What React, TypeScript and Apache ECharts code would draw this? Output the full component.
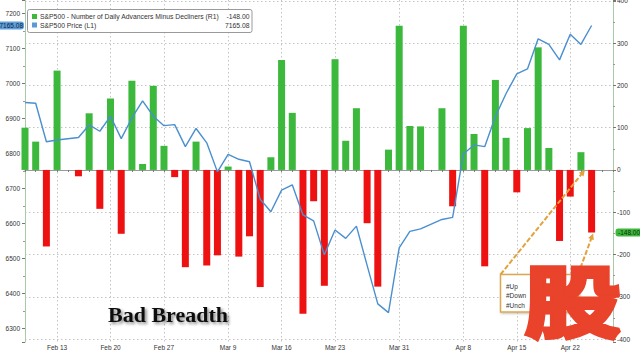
import React, { useEffect, useRef } from 'react';
import * as echarts from 'echarts';

// Weekday slots shown on the time axis (holidays keep an empty slot)
const dates = [
  'Feb 10', 'Feb 11', 'Feb 12', 'Feb 13', 'Feb 16', 'Feb 17', 'Feb 18', 'Feb 19', 'Feb 20',
  'Feb 23', 'Feb 24', 'Feb 25', 'Feb 26', 'Feb 27',
  'Mar 2', 'Mar 3', 'Mar 4', 'Mar 5', 'Mar 6',
  'Mar 9', 'Mar 10', 'Mar 11', 'Mar 12', 'Mar 13',
  'Mar 16', 'Mar 17', 'Mar 18', 'Mar 19', 'Mar 20',
  'Mar 23', 'Mar 24', 'Mar 25', 'Mar 26', 'Mar 27',
  'Mar 30', 'Mar 31', 'Apr 1', 'Apr 2', 'Apr 3',
  'Apr 6', 'Apr 7', 'Apr 8', 'Apr 9', 'Apr 10',
  'Apr 13', 'Apr 14', 'Apr 15', 'Apr 16', 'Apr 17',
  'Apr 20', 'Apr 21', 'Apr 22', 'Apr 23', 'Apr 24',
  'Apr 27', 'Apr 28',
];

const tickLabels = ['Feb 13', 'Feb 20', 'Feb 27', 'Mar 9', 'Mar 16', 'Mar 23', 'Mar 31', 'Apr 8', 'Apr 15', 'Apr 22'];

// S&P500 - Number of Daily Advancers Minus Decliners (R1)
const breadth = [
  100, 67, -181, 235, 0, -15, 134, -92, 169,
  -151, 211, 14, 199, 57,
  -17, -230, 67, -226, -202,
  8, -205, -157, -277, 30,
  260, 135, -340, -74, -274,
  262, 69, 146, -126, -276,
  48, 341, 104, 103, 0,
  146, -86, 341, 85, -228,
  213, 76, -53, 99, 290,
  52, -168, -63, 42, -148,
  null, null,
];

// S&P500 Price (L1)
const price = [
  6945, 6943, 6833, 6838, null, 6845, 6881, 6863, 6906,
  6842, 6901, 6950, 6906, 6879,
  6882, 6819, 6871, 6830, 6747,
  6797, 6783, 6776, 6669, 6633,
  6695, 6710, 6624, 6607, 6510,
  6581, 6557, 6592, 6480, 6370,
  6345, 6530, 6577, 6584, null,
  6611, 6617, 6798, 6824, 6819,
  6905, 6971, 7027, 7041, 7127,
  7111, 7067, 7140, 7111, 7165.08,
  null, null,
];

const legendNames = ['S&P500 - Number of Daily Advancers Minus Decliners (R1)', 'S&P500 Price (L1)'];
const annotationRows = ['#Up', '#Down', '#Unch'];
const titleText = 'Bad Breadth';
const yearText = '2026';
const watermark = '股';

const GREEN = '#3cb83c';
const RED = '#ee1111';
const BLUE = '#4a8fcf';
const GOLD = '#e3a23b';
const FONT = '"Liberation Sans", Arial, sans-serif';

export default function App() {
  const ref = useRef<HTMLDivElement>(null);

  useEffect(() => {
    document.body.style.margin = '0';
    const chart = echarts.init(ref.current!, null, { renderer: 'svg' });
    const labelSet = new Set(tickLabels);
    const showAt = (_i: number, v: string) => labelSet.has(v);
    const hundreds = (v: number) => (Math.abs(v % 100) < 1e-6 ? String(v) : '');
    const axisColor = '#a9c9a9';

    chart.setOption({
      animation: false,
      backgroundColor: '#ffffff',
      grid: { left: 25, right: 27, top: 0, bottom: 14, outerBoundsMode: 'none' },
      xAxis: {
        type: 'category',
        data: dates,
        boundaryGap: false,
        name: yearText,
        nameLocation: 'middle',
        nameGap: 9,
        nameTextStyle: { fontSize: 6.5, color: '#444', fontFamily: FONT },
        axisLine: { lineStyle: { color: '#9a9a9a', width: 1 } },
        axisTick: { show: true, interval: 0, length: 2, lineStyle: { color: '#777' } },
        axisLabel: { interval: showAt, fontSize: 6.5, color: '#333', margin: 2, fontFamily: FONT },
        splitLine: { show: true, interval: showAt, lineStyle: { color: '#c4c4c4', width: 1, type: [1.5, 2.5] } },
      },
      yAxis: [
        {
          type: 'value',
          position: 'left',
          min: 6261,
          max: 7238,
          splitNumber: 10,
          axisLine: { show: true, lineStyle: { color: axisColor, width: 1 } },
          axisTick: { show: true, length: 3, lineStyle: { color: '#777' } },
          minorTick: { show: true, splitNumber: 2, length: 2, lineStyle: { color: '#999' } },
          axisLabel: { formatter: hundreds, fontSize: 6.5, color: '#333', margin: 5, fontFamily: FONT },
          splitLine: { show: false },
        },
        {
          type: 'value',
          position: 'right',
          min: -407,
          max: 402,
          splitNumber: 8,
          axisLine: { show: true, lineStyle: { color: axisColor, width: 1 } },
          axisTick: { show: true, length: 3, lineStyle: { color: '#777' } },
          minorTick: { show: true, splitNumber: 2, length: 2, lineStyle: { color: '#999' } },
          axisLabel: { formatter: hundreds, fontSize: 6.5, color: '#333', margin: 4, fontFamily: FONT },
          splitLine: {
            show: true,
            showMinLine: false,
            showMaxLine: false,
            lineStyle: { color: '#c4c4c4', width: 1, type: [1.5, 2.5] },
          },
        },
      ],
      series: [
        {
          name: legendNames[0],
          type: 'bar',
          yAxisIndex: 1,
          data: breadth,
          barWidth: 7,
          clip: true,
          itemStyle: { color: (p: any) => (p.value >= 0 ? GREEN : RED) },
        },
        {
          name: legendNames[1],
          type: 'line',
          yAxisIndex: 0,
          data: price,
          connectNulls: true,
          showSymbol: false,
          symbol: 'none',
          lineStyle: { color: BLUE, width: 1.4 },
          z: 5,
        },
      ],
    });

    // Annotation overlays anchored to data through the chart's own scales
    const last = 53;
    const px = (si: number, idx: number, val: number) =>
      chart.convertToPixel({ seriesIndex: si }, [idx, val]) as number[];
    const priceTag = px(1, last, price[last] as number);
    const barTag = px(0, last, breadth[last] as number);
    const zeroAnchor = px(0, last - 1, 0);

    const arrow = (id: string, x1: number, y1: number, x2: number, y2: number) => {
      const dx = x2 - x1;
      const dy = y2 - y1;
      const len = Math.sqrt(dx * dx + dy * dy);
      const ux = dx / len;
      const uy = dy / len;
      const bx = x2 - ux * 6;
      const by = y2 - uy * 6;
      return [
        {
          type: 'line',
          id: id + '-l',
          z: 20,
          shape: { x1, y1, x2: x2 - ux * 3, y2: y2 - uy * 3 },
          style: { stroke: GOLD, lineWidth: 2, lineDash: [5, 2] },
        },
        {
          type: 'polygon',
          id: id + '-h',
          z: 20,
          shape: {
            points: [
              [x2, y2],
              [bx - uy * 3, by + ux * 3],
              [bx + uy * 3, by - ux * 3],
            ],
          },
          style: { fill: GOLD },
        },
      ];
    };

    const boxX = 500.5;
    const boxY = 274.5;

    chart.setOption({
      graphic: [
        // legend box
        {
          type: 'rect', id: 'lg-box', z: 30,
          shape: { x: 27.5, y: 9.5, width: 224.5, height: 23, r: 2 },
          style: { fill: '#ffffff', stroke: '#9a9a9a', lineWidth: 1 },
        },
        { type: 'rect', id: 'lg-sq1', z: 31, shape: { x: 32, y: 14, width: 5, height: 5 }, style: { fill: GREEN } },
        { type: 'rect', id: 'lg-sq2', z: 31, shape: { x: 32, y: 22.5, width: 5, height: 5 }, style: { fill: '#5b9bd5' } },
        {
          type: 'text', id: 'lg-t1', z: 31, x: 40, y: 16.7,
          style: { text: legendNames[0], fontSize: 6.8, fill: '#333', fontFamily: FONT, verticalAlign: 'middle' },
        },
        {
          type: 'text', id: 'lg-t2', z: 31, x: 40, y: 25.3,
          style: { text: legendNames[1], fontSize: 6.8, fill: '#333', fontFamily: FONT, verticalAlign: 'middle' },
        },
        {
          type: 'text', id: 'lg-v1', z: 31, x: 249.5, y: 16.7,
          style: { text: (breadth[last] as number).toFixed(2), fontSize: 6.8, fill: '#333', fontFamily: FONT, align: 'right', verticalAlign: 'middle' },
        },
        {
          type: 'text', id: 'lg-v2', z: 31, x: 249.5, y: 25.3,
          style: { text: (price[last] as number).toFixed(2), fontSize: 6.8, fill: '#333', fontFamily: FONT, align: 'right', verticalAlign: 'middle' },
        },
        // last-value tags on both axes
        {
          type: 'rect', id: 'tag-l', z: 30,
          shape: { x: -3, y: priceTag[1] - 4, width: 27, height: 8, r: 3 },
          style: { fill: '#5e9fdc' },
        },
        {
          type: 'text', id: 'tag-lt', z: 31, x: 23, y: priceTag[1],
          style: { text: (price[last] as number).toFixed(2), fontSize: 6.5, fill: '#0f1f3a', fontFamily: FONT, align: 'right', verticalAlign: 'middle' },
        },
        {
          type: 'rect', id: 'tag-r', z: 30,
          shape: { x: 615.5, y: barTag[1] - 4, width: 30, height: 8, r: 3 },
          style: { fill: GREEN },
        },
        {
          type: 'text', id: 'tag-rt', z: 31, x: 618, y: barTag[1],
          style: { text: (breadth[last] as number).toFixed(2), fontSize: 6.5, fill: '#0f2a0f', fontFamily: FONT, verticalAlign: 'middle' },
        },
        // title
        {
          type: 'text', id: 'title', z: 25, x: 108, y: 314.3,
          style: {
            text: titleText, fontSize: 22, fontWeight: 'bold', fill: '#111',
            fontFamily: '"Liberation Serif", "DejaVu Serif", serif', verticalAlign: 'middle',
            textShadowColor: 'rgba(0,0,0,0.45)', textShadowBlur: 3, textShadowOffsetX: 2, textShadowOffsetY: 2,
          },
        },
        // annotation box
        {
          type: 'rect', id: 'ann-box', z: 21,
          shape: { x: boxX, y: boxY, width: 78, height: 37.5 },
          style: { fill: '#ffffff', stroke: '#dca850', lineWidth: 1.5, shadowColor: 'rgba(0,0,0,0.25)', shadowBlur: 2, shadowOffsetX: 1, shadowOffsetY: 1 },
        },
        ...annotationRows.map((t, i) => ({
          type: 'text', id: 'ann-t' + i, z: 22, x: 506, y: 286.5 + i * 9.4,
          style: { text: t, fontSize: 6.5, fill: '#333', fontFamily: FONT, verticalAlign: 'middle' },
        })),
        ...arrow('a1', boxX, boxY, zeroAnchor[0] + 4, zeroAnchor[1]),
        ...arrow('a2', 578, boxY, barTag[0] + 1.5, barTag[1] + 1),
        // watermark
        {
          type: 'text', id: 'wm', z: 40, x: 573, y: 297, scaleX: 1, scaleY: 0.8,
          style: {
            text: watermark, fontSize: 96, fontWeight: 'bold', fill: '#e9432b',
            stroke: '#e9432b', lineWidth: 6, lineJoin: 'round',
            fontFamily: '"Noto Sans CJK SC", sans-serif', align: 'center', verticalAlign: 'middle',
          },
        },
      ],
    });

    return () => chart.dispose();
  }, []);

  return <div ref={ref} style={{ position: 'fixed', left: 0, top: 0, width: 640, height: 356 }} />;
}
